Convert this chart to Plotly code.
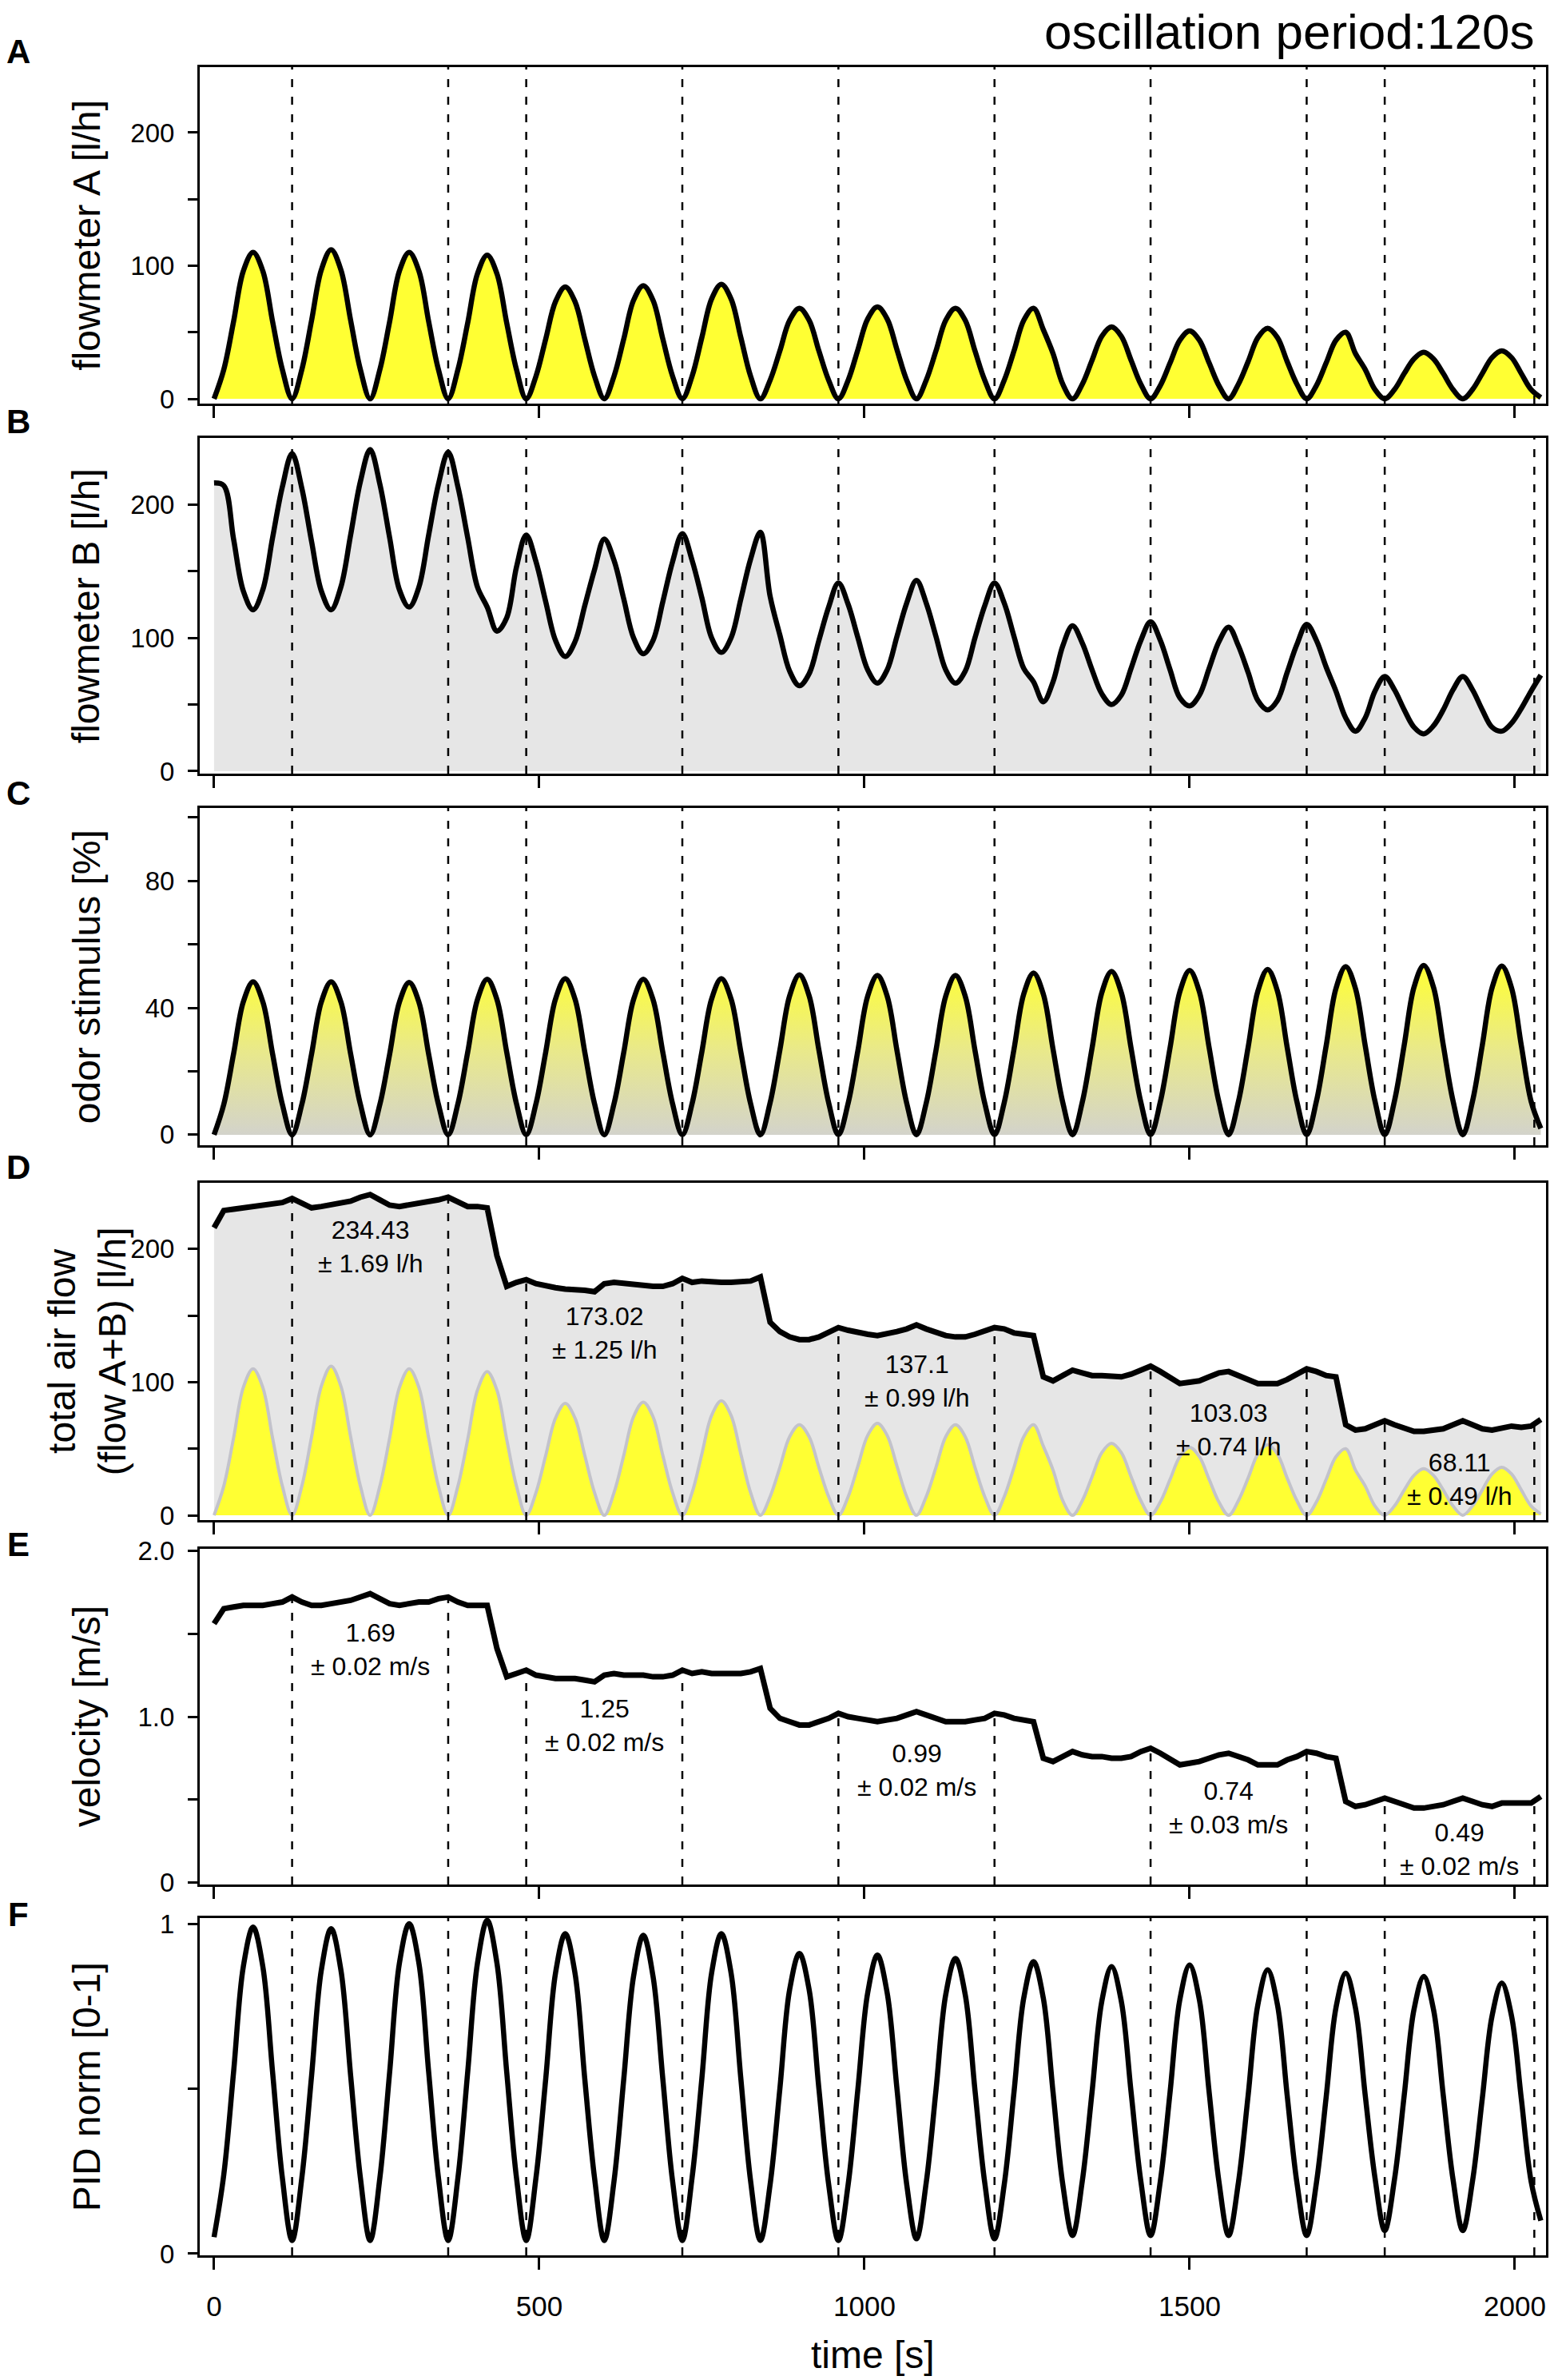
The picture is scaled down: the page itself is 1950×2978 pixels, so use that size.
import numpy as np
import plotly.graph_objects as go
from plotly.subplots import make_subplots

# ---------------- data ----------------
time_s = list(range(0, 2041, 15))

flow_a = [
    0, 22, 58, 96, 110, 96, 58, 22,
    0, 22, 59, 97, 112, 97, 59, 22,
    0, 22, 58, 96, 110, 96, 58, 22,
    0, 22, 57, 94, 108, 94, 57, 22,
    0, 17, 45, 73, 84, 73, 45, 17,
    0, 17, 45, 74, 85, 74, 45, 17,
    0, 17, 46, 75, 86, 75, 46, 17,
    0, 14, 36, 59, 68, 59, 36, 14,
    0, 14, 37, 60, 69, 60, 37, 14,
    0, 14, 36, 59, 68, 59, 36, 14,
    0, 14, 36, 59, 68, 52, 34, 11,
    0, 11, 29, 47, 54, 47, 29, 11,
    0, 10, 27, 44, 51, 44, 27, 10,
    0, 11, 28, 46, 53, 46, 28, 11,
    0, 10, 27, 44, 50, 34, 22, 7,
    0, 7, 19, 30, 35, 30, 19, 7,
    0, 7, 19, 31, 36, 31, 19, 7,
    1,
]

flow_b = [
    216, 214, 174, 135, 121, 136, 175, 213,
    238, 212, 172, 135, 121, 138, 177, 217,
    241, 215, 175, 136, 123, 138, 177, 215,
    239, 213, 175, 138, 123, 105, 115, 153,
    177, 157, 127, 98, 86, 97, 124, 151,
    174, 158, 129, 100, 88, 98, 127, 157,
    178, 158, 130, 100, 89, 100, 129, 159,
    179, 131, 102, 75, 64, 73, 98, 123,
    141, 125, 100, 76, 66, 76, 101, 126,
    143, 126, 101, 76, 66, 75, 100, 124,
    141, 126, 101, 77, 67, 52, 67, 94,
    109, 96, 76, 58, 50, 57, 77, 98,
    112, 98, 76, 55, 49, 57, 77, 97,
    108, 94, 74, 53, 46, 53, 74, 95,
    110, 98, 78, 60, 40, 30, 40, 60,
    71, 61, 46, 33, 28, 34, 46, 61,
    71, 61, 46, 33, 30, 36, 47, 60,
    72,
]

odor_pct = [
    0, 9.6, 25.5, 41.9, 48.2, 41.9, 25.5, 9.6,
    0, 9.6, 25.5, 41.9, 48.2, 41.9, 25.5, 9.6,
    0, 9.6, 25.4, 41.8, 48.0, 41.8, 25.4, 9.6,
    0, 9.8, 26.0, 42.6, 49.0, 42.6, 26.0, 9.8,
    0, 9.8, 26.1, 42.8, 49.2, 42.8, 26.1, 9.8,
    0, 9.8, 26.0, 42.6, 49.0, 42.6, 26.0, 9.8,
    0, 9.8, 26.1, 42.8, 49.2, 42.8, 26.1, 9.8,
    0, 10.1, 26.7, 43.8, 50.4, 43.8, 26.7, 10.1,
    0, 10.0, 26.6, 43.7, 50.2, 43.7, 26.6, 10.0,
    0, 10.0, 26.6, 43.7, 50.2, 43.7, 26.6, 10.0,
    0, 10.2, 27.0, 44.4, 51.0, 44.4, 27.0, 10.2,
    0, 10.3, 27.3, 44.8, 51.5, 44.8, 27.3, 10.3,
    0, 10.4, 27.5, 45.1, 51.8, 45.1, 27.5, 10.4,
    0, 10.4, 27.6, 45.3, 52.1, 45.3, 27.6, 10.4,
    0, 10.6, 28.1, 46.1, 53.0, 46.1, 28.1, 10.6,
    0, 10.7, 28.3, 46.5, 53.4, 46.5, 28.3, 10.7,
    0, 10.6, 28.2, 46.3, 53.2, 46.3, 28.2, 10.6,
    2.0,
]

total_flow = [
    216, 229, 230, 231, 231, 232, 233, 235,
    238, 234, 231, 232, 233, 235, 236, 239,
    241, 237, 233, 232, 233, 234, 235, 237,
    239, 235, 232, 232, 231, 195, 172, 175,
    177, 174, 172, 171, 170, 170, 169, 168,
    174, 175, 174, 174, 173, 172, 172, 174,
    178, 175, 176, 175, 175, 175, 175, 176,
    179, 145, 138, 134, 132, 132, 134, 137,
    141, 139, 137, 136, 135, 136, 138, 140,
    143, 140, 137, 135, 134, 134, 136, 138,
    141, 140, 137, 136, 135, 104, 101, 105,
    109, 107, 105, 105, 104, 104, 106, 109,
    112, 108, 103, 99, 100, 101, 104, 107,
    108, 105, 102, 99, 99, 99, 102, 106,
    110, 108, 105, 104, 68, 64, 65, 68,
    71, 68, 65, 63, 63, 64, 65, 68,
    71, 68, 65, 64, 66, 67, 66, 67,
    72,
]

velocity = [
    1.56, 1.65, 1.66, 1.67, 1.67, 1.67, 1.68, 1.69,
    1.72, 1.69, 1.67, 1.67, 1.68, 1.69, 1.70, 1.72,
    1.74, 1.71, 1.68, 1.67, 1.68, 1.69, 1.69, 1.71,
    1.72, 1.69, 1.67, 1.67, 1.67, 1.41, 1.24, 1.26,
    1.28, 1.25, 1.24, 1.23, 1.23, 1.23, 1.22, 1.21,
    1.25, 1.26, 1.25, 1.25, 1.25, 1.24, 1.24, 1.25,
    1.28, 1.26, 1.27, 1.26, 1.26, 1.26, 1.26, 1.27,
    1.29, 1.05, 0.99, 0.97, 0.95, 0.95, 0.97, 0.99,
    1.02, 1.00, 0.99, 0.98, 0.97, 0.98, 0.99, 1.01,
    1.03, 1.01, 0.99, 0.97, 0.97, 0.97, 0.98, 0.99,
    1.02, 1.01, 0.99, 0.98, 0.97, 0.75, 0.73, 0.76,
    0.79, 0.77, 0.76, 0.76, 0.75, 0.75, 0.76, 0.79,
    0.81, 0.78, 0.74, 0.71, 0.72, 0.73, 0.75, 0.77,
    0.78, 0.76, 0.74, 0.71, 0.71, 0.71, 0.74, 0.76,
    0.79, 0.78, 0.76, 0.75, 0.49, 0.46, 0.47, 0.49,
    0.51, 0.49, 0.47, 0.45, 0.45, 0.46, 0.47, 0.49,
    0.51, 0.49, 0.47, 0.46, 0.48, 0.48, 0.48, 0.48,
    0.52,
]

pid_norm = [
    0.05, 0.24, 0.55, 0.87, 0.99, 0.87, 0.55, 0.23,
    0.04, 0.23, 0.54, 0.86, 0.985, 0.86, 0.54, 0.23,
    0.04, 0.23, 0.55, 0.88, 1.0, 0.88, 0.55, 0.23,
    0.04, 0.23, 0.55, 0.88, 1.01, 0.88, 0.55, 0.23,
    0.04, 0.23, 0.53, 0.85, 0.97, 0.85, 0.53, 0.23,
    0.04, 0.22, 0.53, 0.84, 0.965, 0.84, 0.53, 0.22,
    0.04, 0.23, 0.53, 0.85, 0.97, 0.85, 0.53, 0.22,
    0.04, 0.21, 0.50, 0.80, 0.91, 0.80, 0.50, 0.21,
    0.04, 0.21, 0.50, 0.79, 0.905, 0.79, 0.50, 0.21,
    0.045, 0.215, 0.495, 0.785, 0.895, 0.785, 0.495, 0.215,
    0.045, 0.21, 0.49, 0.775, 0.885, 0.775, 0.49, 0.21,
    0.055, 0.22, 0.49, 0.765, 0.87, 0.765, 0.49, 0.22,
    0.055, 0.22, 0.49, 0.77, 0.875, 0.77, 0.49, 0.22,
    0.055, 0.215, 0.48, 0.755, 0.86, 0.755, 0.48, 0.215,
    0.055, 0.215, 0.475, 0.745, 0.85, 0.745, 0.48, 0.23,
    0.07, 0.225, 0.48, 0.74, 0.84, 0.74, 0.48, 0.225,
    0.07, 0.22, 0.47, 0.72, 0.82, 0.72, 0.47, 0.22,
    0.10,
]

window_edges = [120, 360, 480, 720, 960, 1200, 1440, 1680, 1800, 2030]
x_tick_values = [0, 500, 1000, 1500, 2000]

flow_mean_labels = ["234.43", "173.02", "137.1", "103.03", "68.11"]
flow_sd_labels = ["± 1.69 l/h", "± 1.25 l/h", "± 0.99 l/h", "± 0.74 l/h", "± 0.49 l/h"]
vel_mean_labels = ["1.69", "1.25", "0.99", "0.74", "0.49"]
vel_sd_labels = ["± 0.02 m/s", "± 0.02 m/s", "± 0.02 m/s", "± 0.03 m/s", "± 0.02 m/s"]

panel_letters = ["A", "B", "C", "D", "E", "F"]
y_titles = ["flowmeter A [l/h]", "flowmeter B [l/h]", "odor stimulus [%]",
            "total air flow<br>(flow A+B) [l/h]", "velocity [m/s]", "PID norm [0-1]"]
y_tickvals = [[0, 50, 100, 150, 200], [0, 50, 100, 150, 200], [0, 20, 40, 60, 80, 100],
              [0, 50, 100, 150, 200], [0, 0.5, 1.0, 1.5, 2.0], [0, 0.5, 1]]
y_ticktext = [["0", "", "100", "", "200"], ["0", "", "100", "", "200"], ["0", "", "40", "", "80", ""],
              ["0", "", "100", "", "200"], ["0", "", "1.0", "", "2.0"], ["0", "", "1"]]

# ---------------- layout geometry (pixels) ----------------
W, H = 1950, 2978
ML, MR, MT, MB = 250, 12, 84, 156
PW, PH = W - ML - MR, H - MT - MB
panel_px = [(84, 505), (548, 968), (1011, 1433), (1480, 1902), (1938, 2358), (2400, 2822)]
y_ranges = [[-3.6, 249.2], [-1.8, 249.7], [-3.3, 103], [-3.6, 249.8], [-0.01, 2.01], [-0.005, 1.017]]
x_range = [-22, 2048]
label_py = [65, 527, 993, 1460, 1932, 2395]


def py2paper(py):
    return (H - MB - py) / PH


def px2paper(px):
    return (px - ML) / PW


FONT = "Liberation Sans, Arial, Helvetica, sans-serif"

fig = make_subplots(rows=6, cols=1, shared_xaxes=True)

LW = 6.5
fig.add_trace(go.Scatter(x=time_s, y=flow_a, mode="lines",
                         line=dict(color="black", width=LW, shape="spline"),
                         fill="tozeroy", fillcolor="#ffff33"), row=1, col=1)
fig.add_trace(go.Scatter(x=time_s, y=flow_b, mode="lines",
                         line=dict(color="black", width=LW, shape="spline"),
                         fill="tozeroy", fillcolor="#e6e6e6"), row=2, col=1)
fig.add_trace(go.Scatter(x=time_s, y=odor_pct, mode="lines",
                         line=dict(color="black", width=LW, shape="spline"),
                         fill="tozeroy",
                         fillgradient=dict(type="vertical",
                                           colorscale=[[0, "#d3d3cb"], [0.5, "#e9e98a"], [1, "#ffff33"]])),
              row=3, col=1)
fig.add_trace(go.Scatter(x=time_s, y=total_flow, mode="lines",
                         line=dict(color="black", width=7),
                         fill="tozeroy", fillcolor="#e6e6e6"), row=4, col=1)
fig.add_trace(go.Scatter(x=time_s, y=flow_a, mode="lines",
                         line=dict(color="#c3c3cb", width=4, shape="spline"),
                         fill="tozeroy", fillcolor="#ffff33"), row=4, col=1)
fig.add_trace(go.Scatter(x=time_s, y=velocity, mode="lines",
                         line=dict(color="black", width=7)), row=5, col=1)
fig.add_trace(go.Scatter(x=time_s, y=pid_norm, mode="lines",
                         line=dict(color="black", width=LW, shape="spline")), row=6, col=1)

layout = dict(width=W, height=H, margin=dict(l=ML, r=MR, t=MT, b=MB),
              paper_bgcolor="white", plot_bgcolor="white", showlegend=False,
              font=dict(family=FONT, color="black"))
fig.update_layout(**layout)

for i in range(6):
    n = "" if i == 0 else str(i + 1)
    top, bot = panel_px[i]
    fig.layout["yaxis" + n].update(
        domain=[py2paper(bot), py2paper(top)], range=y_ranges[i],
        tickvals=y_tickvals[i], ticktext=y_ticktext[i],
        ticks="outside", ticklen=12, tickwidth=3, tickcolor="black",
        tickfont=dict(size=33, family=FONT, color="black"), ticklabelstandoff=10,
        showline=True, linewidth=3, linecolor="black", mirror=True,
        showgrid=False, zeroline=False)
    fig.layout["xaxis" + n].update(
        range=x_range, tickvals=x_tick_values,
        ticks="outside", ticklen=15, tickwidth=3, tickcolor="black",
        showline=True, linewidth=3, linecolor="black", mirror=True,
        showgrid=False, zeroline=False, showticklabels=(i == 5),
        tickfont=dict(size=35, family=FONT, color="black"), ticklabelstandoff=16)

# dashed window lines
series_for_clip = {3: total_flow, 4: velocity}
shapes = []
for i in range(6):
    n = "" if i == 0 else str(i + 1)
    for xe in window_edges:
        if i in series_for_clip:
            y_top = float(np.interp(xe, time_s, series_for_clip[i]))
            shapes.append(dict(type="line", xref="x" + n, yref="y" + n,
                               x0=xe, x1=xe, y0=y_ranges[i][0], y1=y_top,
                               line=dict(color="black", width=2.5, dash="10px,12px"), layer="above"))
        else:
            shapes.append(dict(type="line", xref="x" + n, yref="y" + n + " domain",
                               x0=xe, x1=xe, y0=0, y1=1,
                               line=dict(color="black", width=2.5, dash="10px,12px"), layer="above"))
fig.update_layout(shapes=shapes)

ann = []
ann.append(dict(text="oscillation period:120s", xref="paper", yref="paper",
                x=px2paper(1926), y=py2paper(40), xanchor="right", yanchor="middle",
                showarrow=False, font=dict(size=62, family=FONT, color="black")))
for i in range(6):
    ann.append(dict(text="<b>%s</b>" % panel_letters[i], xref="paper", yref="paper",
                    x=px2paper(23), y=py2paper(label_py[i]), xanchor="center", yanchor="middle",
                    showarrow=False, font=dict(size=42, family=FONT, color="black")))
    top, bot = panel_px[i]
    ann.append(dict(text=y_titles[i], xref="paper", yref="paper", textangle=-90,
                    x=px2paper(108), y=py2paper((top + bot) / 2), xanchor="center", yanchor="middle",
                    showarrow=False, font=dict(size=48, family=FONT, color="black")))
ann.append(dict(text="time [s]", xref="paper", yref="paper",
                x=px2paper((ML + W - MR) / 2), y=py2paper(2946), xanchor="center", yanchor="middle",
                showarrow=False, font=dict(size=48, family=FONT, color="black")))

centers = [(window_edges[2 * k] + window_edges[2 * k + 1]) / 2 for k in range(5)]
flow_label_y = [202, 137, 101, 64, 27]
vel_label_y = [1.405, 0.945, 0.68, 0.45, 0.20]
for k in range(5):
    ann.append(dict(text=flow_mean_labels[k] + "<br>" + flow_sd_labels[k], xref="x4", yref="y4",
                    x=centers[k], y=flow_label_y[k], xanchor="center", yanchor="middle",
                    showarrow=False, font=dict(size=32, family=FONT, color="black")))
    ann.append(dict(text=vel_mean_labels[k] + "<br>" + vel_sd_labels[k], xref="x5", yref="y5",
                    x=centers[k], y=vel_label_y[k], xanchor="center", yanchor="middle",
                    showarrow=False, font=dict(size=32, family=FONT, color="black")))
fig.update_layout(annotations=ann)

fig.write_html("out.html", config={"displayModeBar": False},
               post_script="document.body.style.margin='0';")
